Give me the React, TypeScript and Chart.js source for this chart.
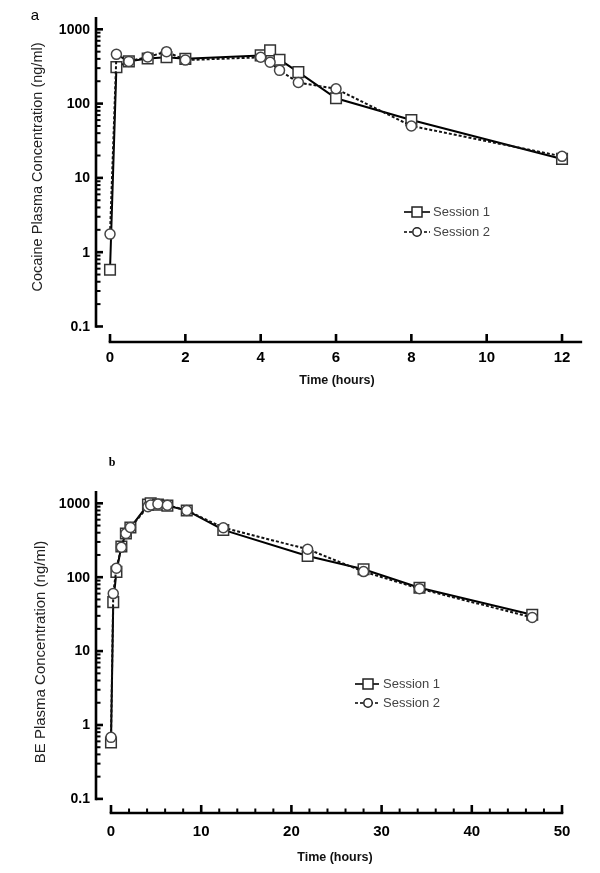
import React, { useEffect, useRef } from "react";
import { Chart, registerables } from "chart.js";

Chart.register(...registerables);

// ---------- Panel a: cocaine ----------
const COC_TIME = [0, 0.17, 0.5, 1, 1.5, 2, 4, 4.25, 4.5, 5, 6, 8, 12];
const COC_S1 = [0.58, 310, 370, 405, 420, 400, 445, 520, 390, 265, 118, 60, 18];
const COC_S2 = [1.75, 460, 370, 425, 500, 385, 420, 360, 280, 192, 158, 50, 19.5];
const COC_X_TICKS = [0, 2, 4, 6, 8, 10, 12];
const COC_X_LABELS = ["0", "2", "4", "6", "8", "10", "12"];
const COC_X_MINOR: number[] = [];
const COC_Y_TITLE = "Cocaine Plasma Concentration (ng/ml)";

// ---------- Panel b: benzoylecgonine ----------
const BE_TIME = [0, 0.25, 0.6, 1.15, 1.65, 2.15, 4.1, 4.4, 5.2, 6.25, 8.4, 12.45, 21.8, 28, 34.2, 46.7];
const BE_S1 = [0.58, 46, 118, 260, 390, 470, 960, 1000, 960, 930, 800, 436, 194, 128, 72, 31];
const BE_S2 = [0.68, 60, 132, 255, 390, 470, 900, 950, 980, 940, 800, 467, 239, 119, 70, 28.5];
const BE_X_TICKS = [0, 10, 20, 30, 40, 50];
const BE_X_LABELS = ["0", "10", "20", "30", "40", "50"];
const BE_X_MINOR = [2, 4, 6, 8, 12, 14, 16, 18, 22, 24, 26, 28, 32, 34, 36, 38, 42, 44, 46, 48];
const BE_Y_TITLE = "BE Plasma Concentration (ng/ml)";

// ---------- shared ----------
const Y_TICKS = [0.1, 1, 10, 100, 1000];
const Y_TICK_LABELS = ["0.1", "1", "10", "100", "1000"];
const X_TITLE = "Time (hours)";
const SERIES_NAMES = ["Session 1", "Session 2"];

const SANS = '"Liberation Sans", Arial, Helvetica, sans-serif';
const SERIF = '"Liberation Serif", "Times New Roman", serif';

type Spec = {
  height: number;
  padding: { left: number; right: number; top: number; bottom: number };
  xMin: number; xMax: number; yMin: number; yMax: number;
  time: number[]; s1: number[]; s2: number[];
  xTicks: number[]; xTickLabels: string[]; xMinor: number[]; xAxisEnd: number;
  xLabelY: number; xTitleX: number; xTitleY: number;
  yTitle: string; yTitleX: number; yTitleY: number; yTitleSize: number;
  legend: { x0: number; x1: number; mx: number; tx: number; y1: number; y2: number };
  panel: { text: string; x: number; y: number; font: string };
};

const SPEC_A: Spec = {
  height: 400,
  padding: { left: 96, right: 15, top: 17, bottom: 58 },
  xMin: -0.372, xMax: 12.61, yMin: 0.0618, yMax: 1464,
  time: COC_TIME, s1: COC_S1, s2: COC_S2,
  xTicks: COC_X_TICKS, xTickLabels: COC_X_LABELS, xMinor: COC_X_MINOR, xAxisEnd: 12.5,
  xLabelY: 358, xTitleX: 337, xTitleY: 381,
  yTitle: COC_Y_TITLE, yTitleX: 38, yTitleY: 167, yTitleSize: 14.5,
  legend: { x0: 404, x1: 430, mx: 417, tx: 433, y1: 212, y2: 232 },
  panel: { text: "a", x: 35, y: 16, font: `15px ${SANS}` },
};

const SPEC_B: Spec = {
  height: 473,
  padding: { left: 96, right: 15, top: 91, bottom: 60 },
  xMin: -1.663, xMax: 52.55, yMin: 0.06443, yMax: 1467,
  time: BE_TIME, s1: BE_S1, s2: BE_S2,
  xTicks: BE_X_TICKS, xTickLabels: BE_X_LABELS, xMinor: BE_X_MINOR, xAxisEnd: 50,
  xLabelY: 432, xTitleX: 335, xTitleY: 458,
  yTitle: BE_Y_TITLE, yTitleX: 41, yTitleY: 252, yTitleSize: 15,
  legend: { x0: 355, x1: 379, mx: 368, tx: 383, y1: 284, y2: 303 },
  panel: { text: "b", x: 112, y: 63, font: `bold 12px ${SERIF}` },
};

function yMinorTicks(maxV: number): number[] {
  const out: number[] = [];
  for (const d of Y_TICKS) {
    for (let k = 2; k <= 9; k++) {
      const v = d * k;
      if (v <= maxV) out.push(v);
    }
  }
  return out;
}

function makePlugin(spec: Spec) {
  return {
    id: "prismAxes",
    beforeDatasetsDraw(chart: any) {
      const ctx: CanvasRenderingContext2D = chart.ctx;
      const xs = chart.scales.x;
      const ys = chart.scales.y;
      const area = chart.chartArea;
      ctx.save();
      ctx.strokeStyle = "#000";
      ctx.lineCap = "butt";
      const ax = area.left;
      const yBot = ys.getPixelForValue(0.1);
      ctx.lineWidth = 2.6;
      ctx.beginPath();
      ctx.moveTo(ax, area.top);
      ctx.lineTo(ax, yBot + 1.3);
      ctx.stroke();
      for (const v of Y_TICKS) {
        const y = ys.getPixelForValue(v);
        ctx.lineWidth = 2.6;
        ctx.beginPath();
        ctx.moveTo(ax, y);
        ctx.lineTo(ax + 7, y);
        ctx.stroke();
      }
      for (const v of yMinorTicks(spec.yMax)) {
        const y = ys.getPixelForValue(v);
        ctx.lineWidth = 2;
        ctx.beginPath();
        ctx.moveTo(ax, y);
        ctx.lineTo(ax + 4.5, y);
        ctx.stroke();
      }
      const ay = area.bottom;
      const x0 = xs.getPixelForValue(0);
      const x1 = xs.getPixelForValue(spec.xAxisEnd);
      ctx.lineWidth = 2.6;
      ctx.beginPath();
      ctx.moveTo(x0 - 1.3, ay);
      ctx.lineTo(x1 + 1.3, ay);
      ctx.stroke();
      for (const v of spec.xTicks) {
        const x = xs.getPixelForValue(v);
        ctx.lineWidth = 2.6;
        ctx.beginPath();
        ctx.moveTo(x, ay);
        ctx.lineTo(x, ay - 8);
        ctx.stroke();
      }
      for (const v of spec.xMinor) {
        const x = xs.getPixelForValue(v);
        ctx.lineWidth = 2;
        ctx.beginPath();
        ctx.moveTo(x, ay);
        ctx.lineTo(x, ay - 4.5);
        ctx.stroke();
      }
      ctx.restore();
    },
    afterDraw(chart: any) {
      const ctx: CanvasRenderingContext2D = chart.ctx;
      const xs = chart.scales.x;
      const ys = chart.scales.y;
      ctx.save();
      ctx.fillStyle = "#000";
      ctx.font = `bold 14px ${SANS}`;
      ctx.textAlign = "right";
      ctx.textBaseline = "middle";
      Y_TICKS.forEach((v, i) => {
        ctx.fillText(Y_TICK_LABELS[i], 90, ys.getPixelForValue(v) + 0.5);
      });
      ctx.font = `bold 15px ${SANS}`;
      ctx.textAlign = "center";
      spec.xTicks.forEach((v, i) => {
        ctx.fillText(spec.xTickLabels[i], xs.getPixelForValue(v), spec.xLabelY);
      });
      ctx.font = `bold 12.5px ${SANS}`;
      ctx.fillStyle = "#111";
      ctx.fillText(X_TITLE, spec.xTitleX, spec.xTitleY);
      ctx.save();
      ctx.translate(spec.yTitleX, spec.yTitleY);
      ctx.rotate(-Math.PI / 2);
      ctx.font = `${spec.yTitleSize}px ${SANS}`;
      ctx.fillStyle = "#222";
      ctx.textAlign = "center";
      ctx.textBaseline = "middle";
      ctx.fillText(spec.yTitle, 0, 0);
      ctx.restore();
      ctx.font = spec.panel.font;
      ctx.fillStyle = "#000";
      ctx.textAlign = "center";
      ctx.textBaseline = "middle";
      ctx.fillText(spec.panel.text, spec.panel.x, spec.panel.y);
      const L = spec.legend;
      [L.y1, L.y2].forEach((y, i) => {
        ctx.strokeStyle = "#000";
        ctx.lineWidth = 1.6;
        ctx.setLineDash(i === 0 ? [] : [3, 2]);
        ctx.beginPath();
        ctx.moveTo(L.x0, y);
        ctx.lineTo(L.x1, y);
        ctx.stroke();
        ctx.setLineDash([]);
        ctx.fillStyle = "#fff";
        ctx.strokeStyle = "#222";
        ctx.lineWidth = 1.5;
        ctx.beginPath();
        if (i === 0) {
          ctx.rect(L.mx - 5, y - 5, 10, 10);
        } else {
          ctx.arc(L.mx, y, 4.2, 0, Math.PI * 2);
        }
        ctx.fill();
        ctx.stroke();
        ctx.fillStyle = "#444";
        ctx.font = `13px ${SANS}`;
        ctx.textAlign = "left";
        ctx.textBaseline = "middle";
        ctx.fillText(SERIES_NAMES[i], L.tx, y + 0.5);
      });
      ctx.restore();
    },
  };
}

function buildConfig(spec: Spec): any {
  const pts = (ys: number[]) => spec.time.map((t, i) => ({ x: t, y: ys[i] }));
  return {
    type: "line",
    data: {
      datasets: [
        {
          label: SERIES_NAMES[0],
          data: pts(spec.s1),
          order: 1,
          borderColor: "#000",
          borderWidth: 2,
          pointStyle: "rect",
          pointRadius: 7.5,
          pointBackgroundColor: "#fff",
          pointBorderColor: "#333",
          pointBorderWidth: 1.5,
          tension: 0,
          fill: false,
        },
        {
          label: SERIES_NAMES[1],
          data: pts(spec.s2),
          order: 0,
          borderColor: "#111",
          borderWidth: 2,
          borderDash: [3, 2],
          pointStyle: "circle",
          pointRadius: 5,
          pointBackgroundColor: "#fff",
          pointBorderColor: "#444",
          pointBorderWidth: 1.5,
          tension: 0,
          fill: false,
        },
      ],
    },
    options: {
      responsive: false,
      animation: false,
      devicePixelRatio: 1,
      events: [],
      layout: { padding: spec.padding },
      plugins: { legend: { display: false }, tooltip: { enabled: false }, title: { display: false } },
      scales: {
        x: { type: "linear", display: false, min: spec.xMin, max: spec.xMax },
        y: { type: "logarithmic", display: false, min: spec.yMin, max: spec.yMax },
      },
    },
    plugins: [makePlugin(spec)],
  };
}

export default function App() {
  const refA = useRef<HTMLCanvasElement | null>(null);
  const refB = useRef<HTMLCanvasElement | null>(null);

  useEffect(() => {
    const charts: Chart[] = [];
    if (refA.current) charts.push(new Chart(refA.current, buildConfig(SPEC_A)));
    if (refB.current) charts.push(new Chart(refB.current, buildConfig(SPEC_B)));
    return () => charts.forEach((c) => c.destroy());
  }, []);

  return (
    <div style={{ position: "absolute", left: 0, top: 0, width: 600, height: 873, background: "#fff" }}>
      <canvas ref={refA} width={600} height={400} style={{ display: "block", width: 600, height: 400 }} />
      <canvas ref={refB} width={600} height={473} style={{ display: "block", width: 600, height: 473 }} />
    </div>
  );
}
